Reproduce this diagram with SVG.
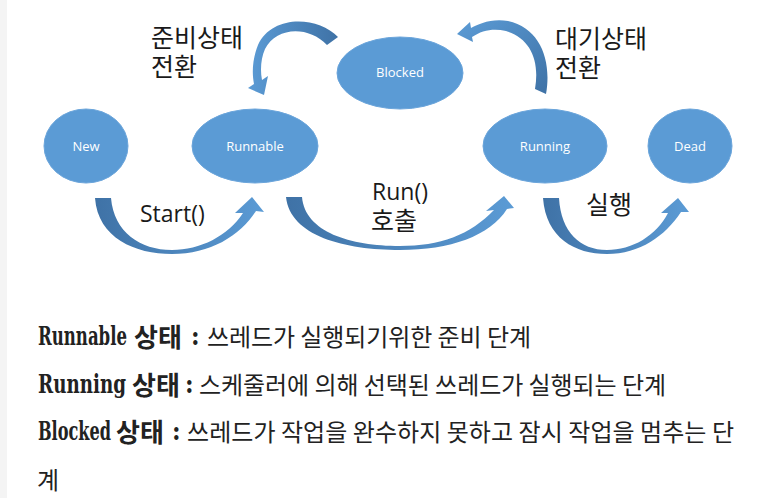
<svg xmlns="http://www.w3.org/2000/svg" width="766" height="498" viewBox="0 0 766 498">
<style>
.node{fill:#5b9bd5;stroke:#6ba5db;stroke-width:1}
.nlabel{font-family:"Open Sans","Noto Sans",sans-serif;font-size:13px;fill:#ffffff;text-anchor:middle}
.alabel{font-family:"Open Sans","Noto Sans CJK KR",sans-serif;font-size:23px;fill:#1a1a1a}
.klabel{font-family:"Noto Sans CJK KR",sans-serif;font-size:25px;fill:#1a1a1a}
.desc{fill:#222}
.lat{font-family:"DejaVu Serif","Liberation Serif",serif;font-stretch:condensed;font-weight:bold;font-size:26px}
.kb{font-family:"Noto Sans CJK KR",sans-serif;font-weight:bold;font-size:26px}
.kr{font-family:"Noto Sans CJK KR",sans-serif;font-size:24px}
</style>
<defs>
<linearGradient id="gLR" x1="0" y1="0" x2="1" y2="0">
<stop offset="0" stop-color="#3f72a6"/>
<stop offset="1" stop-color="#5b9bd5"/>
</linearGradient>
<linearGradient id="gRL" x1="1" y1="0" x2="0" y2="0">
<stop offset="0" stop-color="#3f72a6"/>
<stop offset="1" stop-color="#5b9bd5"/>
</linearGradient>
<linearGradient id="gBT" x1="1" y1="1" x2="0" y2="0">
<stop offset="0" stop-color="#3f72a6"/>
<stop offset="1" stop-color="#5b9bd5"/>
</linearGradient>
</defs>
<rect x="0" y="0" width="766" height="498" fill="#ffffff"/>
<rect x="0" y="0" width="7" height="498" fill="#f4f4f4"/>

<g id="connectors">
<path id="c-start" fill="url(#gLR)" d="M95,198 C98,238 135,254 172,254 C210,254 240,236 256,211 L264,212 L252,197 L235,213 L243,213 C228,236 200,250 172,250 C140,250 114,232 111,198 Z"/>
<path id="c-run" fill="url(#gLR)" d="M286,197 C290,236 345,250 400,250 C450,250 490,236 507,209 L514,208 L504,196 L486,211 L494,210 C470,235 440,246 400,246 C350,246 305,232 302,197 Z"/>
<path id="c-exec" fill="url(#gLR)" d="M543,198 C546,238 575,254 607,254 C640,254 665,236 681,212 L689,212 L678,198 L661,213 L668,213 C656,236 632,250 607,250 C580,250 561,232 559,198 Z"/>
<path id="c-ready" fill="url(#gRL)" d="M338,37 C318,16 272,14 258,45 C252,60 252,74 254,84 L248,88 L264,95 L268,76 L262,80 C260,70 261,58 265,49 C276,27 308,25 327,45 Z"/>
<path id="c-wait" fill="url(#gBT)" d="M546,94 C552,60 540,28 508,21 C492,18 478,24 471,28 L470,22 L457,34 L473,42 L472,37 C482,30 494,28 506,31 C530,38 540,60 535,89 Z"/>
<text class="alabel" x="140" y="222">Start()</text>
<text class="alabel" x="372" y="200">Run()</text>
<text class="klabel" x="371" y="230">호출</text>
<text class="klabel" x="586" y="214">실행</text>
<text class="klabel" x="151" y="47">준비상태</text>
<text class="klabel" x="151" y="76">전환</text>
<text class="klabel" x="555" y="48">대기상태</text>
<text class="klabel" x="555" y="77">전환</text>
</g>

<g id="node-new">
<ellipse class="node" cx="86" cy="146" rx="42" ry="37"/>
<text class="nlabel" x="86" y="151">New</text>
</g>
<g id="node-runnable">
<ellipse class="node" cx="255" cy="146" rx="63" ry="37"/>
<text class="nlabel" x="255" y="151">Runnable</text>
</g>
<g id="node-blocked">
<ellipse class="node" cx="400" cy="73" rx="63" ry="36"/>
<text class="nlabel" x="400" y="77">Blocked</text>
</g>
<g id="node-running">
<ellipse class="node" cx="545" cy="146" rx="62" ry="37"/>
<text class="nlabel" x="545" y="151">Running</text>
</g>
<g id="node-dead">
<ellipse class="node" cx="690" cy="146" rx="42" ry="37"/>
<text class="nlabel" x="690" y="151">Dead</text>
</g>

<g id="description">
<text class="desc" y="346"><tspan class="lat" x="38" y="345" textLength="89" lengthAdjust="spacingAndGlyphs">Runnable</tspan><tspan class="kb" x="134" y="347">상태</tspan><tspan class="lat" x="191" y="345">:</tspan><tspan class="kr" x="207" y="346" textLength="324" lengthAdjust="spacing">쓰레드가 실행되기위한 준비 단계</tspan></text>

<text class="desc" y="394"><tspan class="lat" x="38" y="393" textLength="88" lengthAdjust="spacingAndGlyphs">Running</tspan><tspan class="kb" x="132" y="395">상태</tspan><tspan class="lat" x="185" y="393">:</tspan><tspan class="kr" x="199" y="394" textLength="467" lengthAdjust="spacing">스케줄러에 의해 선택된 쓰레드가 실행되는 단계</tspan></text>

<text class="desc" y="441"><tspan class="lat" x="38" y="440" textLength="73" lengthAdjust="spacingAndGlyphs">Blocked</tspan><tspan class="kb" x="116" y="442">상태</tspan><tspan class="lat" x="172" y="440">:</tspan><tspan class="kr" x="187" y="441" textLength="547" lengthAdjust="spacing">쓰레드가 작업을 완수하지 못하고 잠시 작업을 멈추는 단</tspan></text>

<text class="desc kr" x="37" y="489">계</text>
</g>
</svg>
